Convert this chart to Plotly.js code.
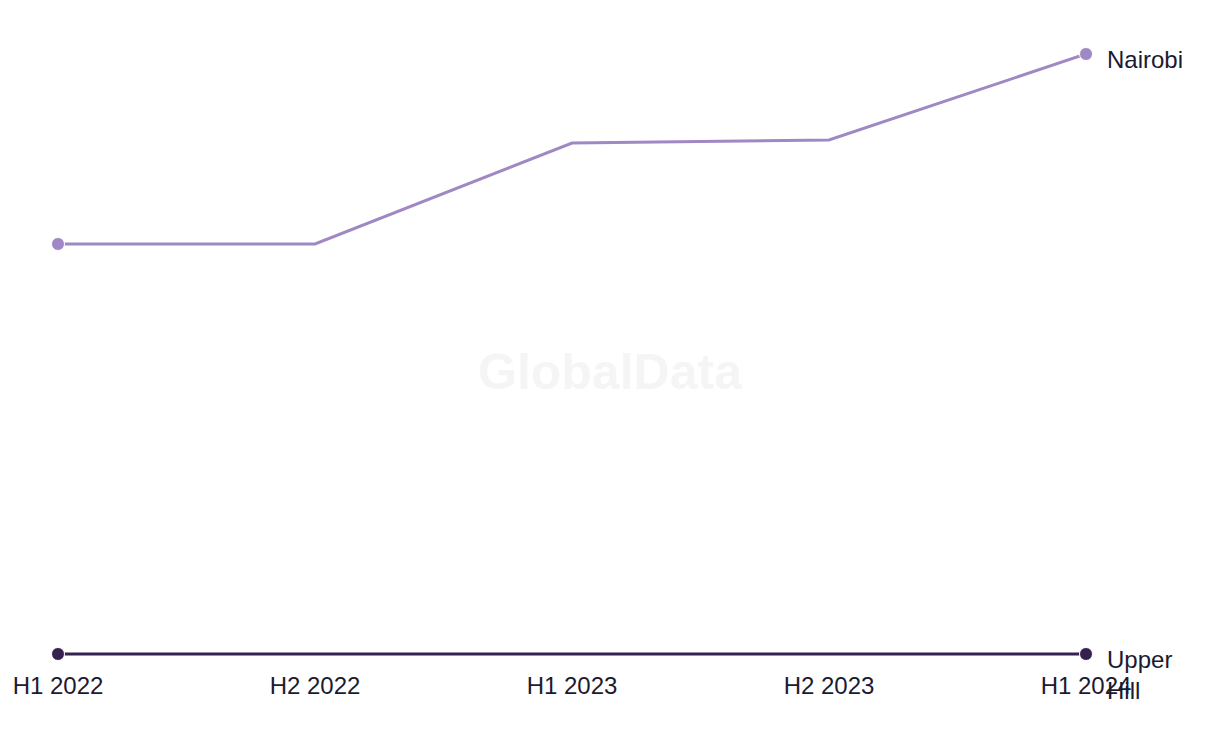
<!DOCTYPE html>
<html>
<head>
<meta charset="utf-8">
<script src="https://cdn.plot.ly/plotly-3.0.1.min.js"></script>
<style>html,body{margin:0;padding:0;background:#fff;}#chart{width:1220px;height:744px;}</style>
</head>
<body>
<div id="chart"></div>
<script>
const periods = ["H1 2022", "H2 2022", "H1 2023", "H2 2023", "H1 2024"];
const nairobi = [41, 41, 51.1, 51.4, 60];
const upperHill = [0, 0, 0, 0, 0];
const seriesNames = ["Nairobi", "Upper<br>Hill"];
const colors = ["#a088c4", "#35214f"];
const endMarkers = [13, 0, 0, 0, 13];

const FONT = "'Liberation Sans', Arial, sans-serif";

const traces = [
  {x: periods, y: nairobi, name: "Nairobi", mode: "lines+markers", line: {color: colors[0], width: 3}, marker: {size: endMarkers, color: colors[0], opacity: 1}, cliponaxis: false, hoverinfo: "x+y"},
  {x: periods, y: upperHill, name: "Upper Hill", mode: "lines+markers", line: {color: colors[1], width: 3}, marker: {size: endMarkers, color: colors[1], opacity: 1}, cliponaxis: false, hoverinfo: "x+y"}
];

const annotations = [
  {x: periods[4], y: nairobi[4], text: seriesNames[0], xref: "x", yref: "y", xanchor: "left", yanchor: "top", xshift: 19, yshift: 10, showarrow: false, align: "left", font: {family: FONT, size: 24, color: "#1c1a30"}},
  {x: periods[4], y: upperHill[4], text: seriesNames[1], xref: "x", yref: "y", xanchor: "left", yanchor: "top", xshift: 19, yshift: 10, showarrow: false, align: "left", font: {family: FONT, size: 24, color: "#1c1a30"}},
  {x: 0.537, y: 0.471, xref: "paper", yref: "paper", xanchor: "center", yanchor: "middle", text: "<b>GlobalData</b>", showarrow: false, font: {family: FONT, size: 50, color: "#f5f5f5"}}
];

const layout = {
  width: 1220, height: 744,
  margin: {l: 58, r: 134, t: 44, b: 80, pad: 0},
  paper_bgcolor: "#ffffff", plot_bgcolor: "#ffffff",
  showlegend: false,
  font: {family: FONT, size: 24, color: "#1c1a30"},
  xaxis: {type: "category", range: [0, 4], showgrid: false, zeroline: false, showline: false, ticks: "", tickfont: {family: FONT, size: 24, color: "#1c1a30"}, ticklabelstandoff: 5, fixedrange: true},
  yaxis: {range: [-1, 61], showgrid: false, zeroline: false, showline: false, showticklabels: false, ticks: "", fixedrange: true},
  annotations: annotations
};

Plotly.newPlot("chart", traces, layout, {displayModeBar: false});
</script>
</body>
</html>
